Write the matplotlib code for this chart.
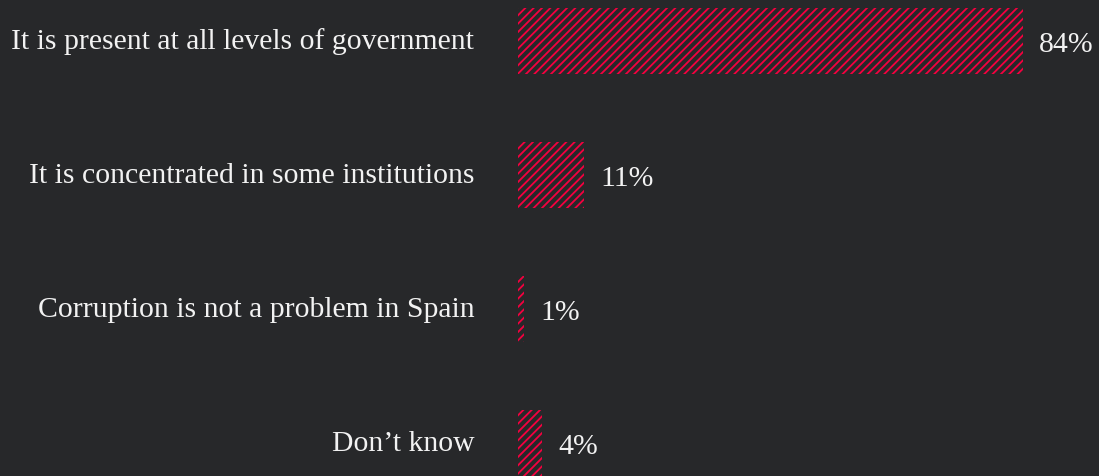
import matplotlib.pyplot as plt

# Opinion sur la corruption en Espagne
categories = [
    "It is present at all levels of government",
    "It is concentrated in some institutions",
    "Corruption is not a problem in Spain",
    "Don\u2019t know",
]
valeurs = [84, 11, 1, 4]

fond = "#27282a"
rouge = "#f5003f"
texte = "#f2f2f2"

plt.rcParams["font.family"] = ["Liberation Serif", "DejaVu Serif"]
plt.rcParams["hatch.linewidth"] = 1.3
plt.rcParams["hatch.color"] = rouge

fig = plt.figure(figsize=(10.99, 4.76), dpi=100, facecolor=fond)
ax = fig.add_axes([518 / 1099, 0, 1 - 518 / 1099, 1])
ax.set_facecolor(fond)

pos = list(range(len(categories)))
ax.barh(pos, valeurs, height=0.49, color=fond, edgecolor=rouge,
        linewidth=0, hatch="////")

# libellés des catégories à gauche, valeurs à droite des barres
for p, cat, v in zip(pos, categories, valeurs):
    ax.annotate(cat, xy=(0, p), xytext=(-31.5, -5.5), textcoords="offset points",
                ha="right", va="baseline", color=texte, fontsize=21.4,
                annotation_clip=False)
    ax.annotate(f"{v}%", xy=(v, p), xytext=(11.5, -8), textcoords="offset points",
                ha="left", va="baseline", color=texte, fontsize=21.4,
                annotation_clip=False)

ax.set_xlim(0, 581 / 6.01)
ax.set_ylim(3 + 33 / 134, -41 / 134)
ax.set_xticks([])
ax.set_yticks([])
for s in ax.spines.values():
    s.set_visible(False)

fig.savefig("out.png", dpi=100, facecolor=fond)
